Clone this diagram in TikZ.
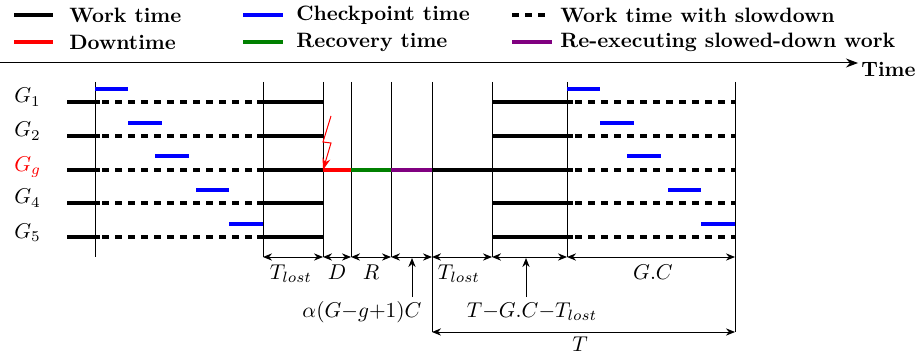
\documentclass[tikz,border=0pt]{standalone}
\usepackage{graphicx}
\usetikzlibrary{arrows.meta}
\definecolor{cpblue}{RGB}{0,0,255}
\definecolor{dnred}{RGB}{255,0,0}
\definecolor{rcgreen}{RGB}{0,128,0}
\definecolor{rxpurple}{RGB}{128,0,128}
\newcommand{\legtext}[1]{\scalebox{1.04}{\bfseries #1}}
\newcommand{\mtext}[1]{\scalebox{1.07}{$#1$}}
\begin{document}
\begin{tikzpicture}[x=0.5pt,y=-0.5pt,
  work/.style={line width=2pt},
  slow/.style={line width=2pt, dash pattern=on 3.5pt off 3pt, dash phase=-1pt},
  ckpt/.style={line width=2pt, cpblue},
  vline/.style={line width=0.5pt},
  dim/.style={line width=0.5pt,{Stealth[length=4.5pt,width=3.6pt]}-{Stealth[length=4.5pt,width=3.6pt]}},
  upar/.style={line width=0.5pt,-{Stealth[length=4.5pt,width=3.6pt]}},
  legtxt/.style={anchor=west, inner sep=0pt},
  rowlbl/.style={anchor=base west, inner sep=0pt},
  dimlbl/.style={anchor=base, inner sep=0pt}]
\useasboundingbox (0,0) rectangle (921,358);

% ---- legend ----
\draw[work] (14,15) -- (53,15);
\node[legtxt] (lwork) at (69,15) {\legtext{Work time}};
\draw[ckpt] (243,15) -- (283,15);
\node[legtxt] (lckpt) at (296,15) {\legtext{Checkpoint time}};
\draw[slow,dash phase=0pt] (512,15) -- (546,15);
\node[legtxt] (lslow) at (560,15) {\legtext{Work time with slowdown}};
\draw[work,dnred] (14,42) -- (53,42);
\node[legtxt] (ldown) at (69,42) {\legtext{Downtime}};
\draw[work,rcgreen] (243,42) -- (283,42);
\node[legtxt] (lrec) at (296,42) {\legtext{Recovery time}};
\draw[work,rxpurple] (512,42) -- (552,42);
\node[legtxt] (lreex) at (560,42) {\legtext{Re-executing slowed-down work}};

% ---- time axis ----
\coordinate (ax0) at (0,63);
\coordinate (ax1) at (858,63);
\draw[line width=0.5pt,-{Stealth[length=6pt,width=4.5pt]}] (ax0) -- (ax1);
\node[anchor=west, inner sep=0pt] (time) at (861,69) {\legtext{Time}};

% ---- vertical lines ----
\foreach \n/\x/\b in {a/95/257, b/263/257, c/323/257, d/351/257, e/391/257, f/432/332, g/492/257, h/567/257, i/735/332}{
  \coordinate (\n t) at (\x,82);
  \coordinate (\n d) at (\x,257);
  \coordinate (\n b) at (\x,\b);
  \draw[vline] (\n t) -- (\n b);
}

% ---- rows ----
\foreach \y in {102,136,170,203,237}{
  \draw[work] (67,\y) -- (100,\y);
  \draw[slow] (100,\y) -- (257,\y);
  \draw[work] (257,\y) -- (323,\y);
  \draw[slow] (573,\y) -- (735,\y);
}
\foreach \y in {102,136,203,237}{
  \draw[work] (492,\y) -- (573,\y);
}
\draw[work,dnred] (323,170) -- (351,170);
\draw[work,rcgreen] (351,170) -- (391,170);
\draw[work,rxpurple] (391,170) -- (432,170);
\draw[work] (432,170) -- (573,170);

% row labels
\node[rowlbl] (g1) at (14,103) {\mtext{G_1}};
\node[rowlbl] (g2) at (14,137) {\mtext{G_2}};
\node[rowlbl, text=dnred] (gg) at (14,171) {\mtext{G_g}};
\node[rowlbl] (g4) at (14,204) {\mtext{G_4}};
\node[rowlbl] (g5) at (14,238) {\mtext{G_5}};

% ---- checkpoints ----
\draw[ckpt] (95,89) -- (128,89);
\draw[ckpt] (128,123) -- (162,123);
\draw[ckpt] (155,156) -- (189,156);
\draw[ckpt] (196,190) -- (229,190);
\draw[ckpt] (229,224) -- (263,224);
\draw[ckpt] (567,89) -- (600,89);
\draw[ckpt] (600,123) -- (634,123);
\draw[ckpt] (627,156) -- (661,156);
\draw[ckpt] (668,190) -- (701,190);
\draw[ckpt] (701,224) -- (735,224);

% ---- failure (lightning) ----
\coordinate (l0) at (331,116);
\coordinate (l1) at (323,142);
\coordinate (l2) at (331,143);
\coordinate (l3) at (323,170);
\draw[dnred, line width=0.5pt, -{Stealth[length=6pt,width=4pt]}] (l0) -- (l1) -- (l2) -- (l3);

% ---- dimensions ----
\draw[dim] (bd) -- (cd);
\draw[dim] (cd) -- (dd);
\draw[dim] (dd) -- (ed);
\draw[dim] (ed) -- (fd);
\draw[dim] (fd) -- (gd);
\draw[dim] (gd) -- (hd);
\draw[dim] (hd) -- (id);
\draw[dim] (fb) -- (ib);

\node[dimlbl] (tl1) at (291,279) {\mtext{T_{lost}}};
\node[dimlbl] (dl) at (337,279) {\mtext{D}};
\node[dimlbl] (rl) at (371,279) {\mtext{R}};
\node[dimlbl] (tl2) at (459,279) {\mtext{T_{lost}}};
\node[dimlbl] (gcl) at (653,279) {\mtext{G.C}};
\node[dimlbl] (al) at (362,317) {\mtext{\alpha(G{-}g{+}1)C}};
\node[dimlbl] (rest) at (532,317) {\mtext{T{-}G.C{-}T_{lost}}};
\node[dimlbl] (tt) at (580,351) {\mtext{T}};

\coordinate (ua) at (412,297);
\coordinate (uat) at (412,258);
\coordinate (ub) at (526,297);
\coordinate (ubt) at (526,258);
\draw[upar] (ua) -- (uat);
\draw[upar] (ub) -- (ubt);
\end{tikzpicture}
\end{document}
